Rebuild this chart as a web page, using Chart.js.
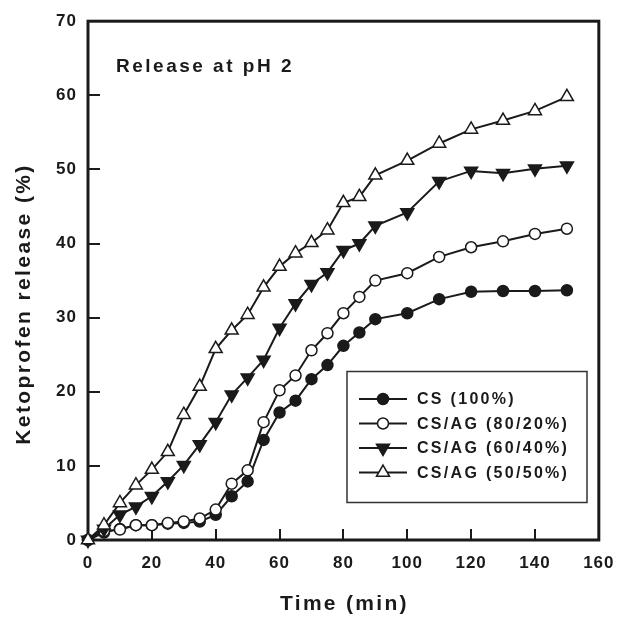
<!DOCTYPE html>
<html lang="en">
<head>
    <meta charset="UTF-8">
    <title>Ketoprofen release at pH 2</title>
    <script src="https://cdn.jsdelivr.net/npm/chart.js"></script>
    <style>
        html, body {
            margin: 0;
            padding: 0;
            background-color: #fff;
        }
        canvas {
            display: block;
        }
    </style>
</head>
<body>
    <canvas id="releaseChart" width="626" height="618"></canvas>

    <script>
        // sampling times (min)
        const times = [0, 5, 10, 15, 20, 25, 30, 35, 40, 45, 50, 55, 60, 65, 70, 75, 80, 85, 90, 100, 110, 120, 130, 140, 150];

        // cumulative ketoprofen release (%)
        const cs100 = [0, 1.0, 1.5, 2.0, 2.0, 2.2, 2.3, 2.5, 3.4, 5.9, 7.9, 13.5, 17.2, 18.8, 21.7, 23.6, 26.2, 28.0, 29.8, 30.6, 32.5, 33.5, 33.6, 33.6, 33.7];
        const csAg8020 = [0, 1.2, 1.4, 2.0, 2.0, 2.3, 2.5, 2.9, 4.1, 7.6, 9.4, 15.9, 20.2, 22.2, 25.6, 27.9, 30.6, 32.8, 35.0, 36.0, 38.2, 39.5, 40.3, 41.3, 42.0];
        const csAg6040 = [0, 1.5, 3.4, 4.5, 5.9, 7.9, 10.1, 12.9, 15.9, 19.6, 21.9, 24.3, 28.6, 31.9, 34.5, 36.1, 39.1, 40.0, 42.4, 44.2, 48.4, 49.8, 49.5, 50.1, 50.5];
        const csAg5050 = [0, 2.0, 5.0, 7.4, 9.5, 11.9, 16.9, 20.7, 25.8, 28.3, 30.4, 34.1, 36.9, 38.7, 40.1, 41.8, 45.5, 46.3, 49.2, 51.2, 53.5, 55.4, 56.6, 57.9, 59.8];

        const seriesLabels = ['CS (100%)', 'CS/AG (80/20%)', 'CS/AG (60/40%)', 'CS/AG (50/50%)'];
        const xTicks = [0, 20, 40, 60, 80, 100, 120, 140, 160];
        const yTicks = [0, 10, 20, 30, 40, 50, 60, 70];

        const FONT = "'Liberation Sans', Arial, sans-serif";
        const INK = '#1a1a1a';

        function pts(values) {
            return times.map((t, i) => ({ x: t, y: values[i] }));
        }

        // frame and inward tick marks
        const framePlugin = {
            id: 'frame',
            beforeDatasetsDraw(chart) {
                const { ctx, chartArea: a, scales } = chart;
                ctx.save();
                ctx.strokeStyle = INK;
                ctx.lineWidth = 2;
                xTicks.slice(1, -1).forEach(v => {
                    const px = Math.round(scales.x.getPixelForValue(v));
                    ctx.beginPath();
                    ctx.moveTo(px, a.bottom);
                    ctx.lineTo(px, a.bottom - 11);
                    ctx.stroke();
                });
                yTicks.slice(1, -1).forEach(v => {
                    const py = Math.round(scales.y.getPixelForValue(v));
                    ctx.beginPath();
                    ctx.moveTo(a.left, py);
                    ctx.lineTo(a.left + 12, py);
                    ctx.stroke();
                });
                ctx.lineWidth = 3;
                ctx.strokeRect(a.left, a.top, a.right - a.left, a.bottom - a.top);
                ctx.restore();
            },
            beforeDraw(chart) {
                chart.ctx.letterSpacing = '1px';
            }
        };

        function drawMarker(ctx, ds, x, y) {
            ctx.save();
            ctx.fillStyle = ds.pointBackgroundColor;
            ctx.strokeStyle = ds.pointBorderColor;
            ctx.lineWidth = ds.pointBorderWidth;
            Chart.helpers.drawPoint(ctx, {
                pointStyle: ds.pointStyle,
                rotation: ds.pointRotation || 0,
                radius: ds.pointRadius,
                borderWidth: ds.pointBorderWidth
            }, x, y);
            ctx.restore();
        }

        // inner title, axis titles and the boxed legend
        const textPlugin = {
            id: 'texts',
            afterDraw(chart) {
                const { ctx, chartArea: a } = chart;
                ctx.save();
                ctx.fillStyle = INK;

                ctx.letterSpacing = '2.5px';
                ctx.font = 'bold 19px ' + FONT;
                ctx.textAlign = 'left';
                ctx.textBaseline = 'alphabetic';
                ctx.fillText('Release at pH 2', 116, 72);

                ctx.letterSpacing = '2.3px';
                ctx.font = 'bold 21px ' + FONT;
                ctx.textAlign = 'center';
                ctx.textBaseline = 'middle';
                ctx.fillText('Time (min)', (a.left + a.right) / 2 + 1, 604);

                ctx.save();
                ctx.translate(24, 304);
                ctx.rotate(-Math.PI / 2);
                ctx.letterSpacing = '2.4px';
                ctx.fillText('Ketoprofen release (%)', 0, 0);
                ctx.restore();

                // legend
                ctx.letterSpacing = '0px';
                ctx.strokeStyle = '#333';
                ctx.lineWidth = 1.5;
                ctx.strokeRect(347, 371.5, 240, 131);

                ctx.font = 'bold 16px ' + FONT;
                ctx.textAlign = 'left';
                ctx.letterSpacing = '2.3px';
                chart.data.datasets.forEach((ds, i) => {
                    const y = 399 + i * 24.5;
                    ctx.strokeStyle = INK;
                    ctx.lineWidth = 2;
                    ctx.beginPath();
                    ctx.moveTo(359, y);
                    ctx.lineTo(407, y);
                    ctx.stroke();
                    drawMarker(ctx, ds, 383, y);
                    ctx.fillStyle = INK;
                    ctx.fillText(ds.label, 417, y + 1);
                });
                ctx.restore();
            }
        };

        function series(label, values, style, fill, radius, rotation, order) {
            return {
                label: label,
                data: pts(values),
                borderColor: INK,
                borderWidth: 2,
                pointStyle: style,
                pointRotation: rotation,
                pointRadius: radius,
                pointHoverRadius: radius,
                pointBackgroundColor: fill,
                pointBorderColor: INK,
                pointBorderWidth: 1.5,
                tension: 0,
                clip: false,
                order: order
            };
        }

        new Chart(document.getElementById('releaseChart'), {
            type: 'line',
            data: {
                datasets: [
                    series(seriesLabels[0], cs100, 'circle', INK, 5.5, 0, 4),
                    series(seriesLabels[1], csAg8020, 'circle', '#fff', 5.5, 0, 3),
                    series(seriesLabels[2], csAg6040, 'triangle', INK, 7.5, 180, 2),
                    series(seriesLabels[3], csAg5050, 'triangle', '#fff', 7.5, 0, 1)
                ]
            },
            options: {
                responsive: false,
                animation: false,
                events: [],
                layout: { padding: { left: 0, top: 18, right: 16, bottom: 0 } },
                plugins: {
                    legend: { display: false },
                    tooltip: { enabled: false }
                },
                scales: {
                    x: {
                        type: 'linear',
                        min: 0,
                        max: 160,
                        afterFit(scale) { scale.height = 78; },
                        afterBuildTicks(scale) { scale.ticks = xTicks.map(v => ({ value: v })); },
                        grid: { display: false, drawTicks: false },
                        border: { display: false },
                        ticks: {
                            padding: 13,
                            color: INK,
                            font: { family: FONT, size: 17, weight: 'bold' }
                        }
                    },
                    y: {
                        type: 'linear',
                        min: 0,
                        max: 70,
                        afterFit(scale) { scale.width = 88; },
                        afterBuildTicks(scale) { scale.ticks = yTicks.map(v => ({ value: v })); },
                        grid: { display: false, drawTicks: false },
                        border: { display: false },
                        ticks: {
                            padding: 11,
                            color: INK,
                            font: { family: FONT, size: 17, weight: 'bold' }
                        }
                    }
                }
            },
            plugins: [framePlugin, textPlugin]
        });
    </script>
</body>
</html>
